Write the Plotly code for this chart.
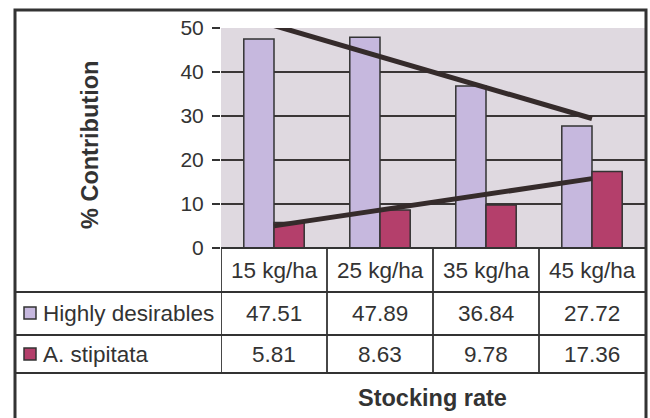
import numpy as np
import plotly.graph_objects as go

# Stocking-rate treatments and percentage contribution of each group
categories = ["15 kg/ha", "25 kg/ha", "35 kg/ha", "45 kg/ha"]
highly_desirables = [47.51, 47.89, 36.84, 27.72]
a_stipitata = [5.81, 8.63, 9.78, 17.36]
series_names = ["Highly desirables", "A. stipitata"]
y_ticks = [0, 10, 20, 30, 40, 50]

LAV = "#c6b8de"
RED = "#b43f6b"
INK = "#333333"
FONT = "Liberation Sans, Arial, sans-serif"

# Plot-area geometry (pixels) used to place table furniture in paper units
L, R, T, B = 221, 645, 28, 248
W, H = 650, 418


def px_x(p):
    return (p - L) / (R - L)


def px_y(p):
    return (B - p) / (B - T)


def trend(values):
    xs = np.arange(1, len(values) + 1)
    slope, icpt = np.polyfit(xs, values, 1)
    return [icpt + slope * xs[0], icpt + slope * xs[-1]]


fig = go.Figure()
fig.add_trace(go.Bar(x=categories, y=highly_desirables, name=series_names[0],
                     marker=dict(color=LAV, line=dict(color=INK, width=1.5))))
fig.add_trace(go.Bar(x=categories, y=a_stipitata, name=series_names[1],
                     marker=dict(color=RED, line=dict(color=INK, width=1.5))))

# Linear trend lines for both series
for vals in (highly_desirables, a_stipitata):
    fig.add_trace(go.Scatter(x=[categories[0], categories[-1]], y=trend(vals),
                             mode="lines", line=dict(color="#352b2b", width=5),
                             showlegend=False, hoverinfo="skip"))

shapes = []
line_style = dict(color=INK, width=1.8)
# outer frame
shapes.append(dict(type="rect", xref="paper", yref="paper",
                   x0=px_x(15), x1=px_x(646), y0=px_y(430), y1=px_y(10),
                   line=dict(color=INK, width=3), layer="above"))
# x axis line
shapes.append(dict(type="line", xref="paper", yref="paper",
                   x0=0, x1=1, y0=0, y1=0, line=line_style))
# data-table horizontal rules
for yp in (292, 335, 373):
    shapes.append(dict(type="line", xref="paper", yref="paper",
                       x0=px_x(15), x1=1, y0=px_y(yp), y1=px_y(yp), line=line_style))
# data-table vertical rules at category boundaries
for xb in [-0.5, 0.5, 1.5, 2.5]:
    shapes.append(dict(type="line", xref="x", yref="paper",
                       x0=xb, x1=xb, y0=0, y1=px_y(373), line=line_style))
# legend keys
for yc, col in ((313, LAV), (354, RED)):
    shapes.append(dict(type="rect", xref="paper", yref="paper",
                       x0=px_x(24), x1=px_x(36), y0=px_y(yc + 6), y1=px_y(yc - 6),
                       fillcolor=col, line=dict(color=INK, width=1.5)))

annotations = []
txt = dict(family=FONT, size=22.5, color=INK)
cell = dict(showarrow=False, font=txt, xanchor="center", yanchor="middle")
for i, c in enumerate(categories):
    annotations.append(dict(x=c, y=px_y(270), xref="x", yref="paper", text=c, **cell))
    annotations.append(dict(x=c, y=px_y(313), xref="x", yref="paper",
                            text=f"{highly_desirables[i]:.2f}", **cell))
    annotations.append(dict(x=c, y=px_y(354), xref="x", yref="paper",
                            text=f"{a_stipitata[i]:.2f}", **cell))
for name, yc in zip(series_names, (313, 354)):
    annotations.append(dict(x=px_x(41), y=px_y(yc), xref="paper", yref="paper",
                            text=name, showarrow=False, font=txt,
                            xanchor="left", yanchor="middle"))
annotations.append(dict(x=px_x(90), y=px_y(145), xref="paper", yref="paper",
                        text="<b>% Contribution</b>", textangle=-90, showarrow=False,
                        xanchor="center", yanchor="middle",
                        font=dict(family=FONT, size=23.5, color=INK)))
annotations.append(dict(x=px_x(432), y=px_y(398), xref="paper", yref="paper",
                        text="<b>Stocking rate</b>", showarrow=False,
                        xanchor="center", yanchor="middle",
                        font=dict(family=FONT, size=23.5, color=INK)))

fig.update_layout(
    width=W, height=H,
    margin=dict(l=L, r=W - R, t=T, b=H - B),
    paper_bgcolor="white",
    plot_bgcolor="#dfd9e0",
    barmode="group", bargap=0.43, bargroupgap=0,
    showlegend=False,
    font=dict(family=FONT, color=INK),
    shapes=shapes,
    annotations=annotations,
    xaxis=dict(type="category", range=[-0.5, 3.5], showticklabels=False,
               showgrid=False, zeroline=False, showline=False, ticks=""),
    yaxis=dict(range=[0, 50], tickvals=y_ticks, ticks="outside", ticklen=8,
               tickwidth=1.5, tickcolor=INK, showgrid=True, gridcolor="#3a3636",
               gridwidth=1.5, zeroline=False, showline=False,
               tickfont=dict(family=FONT, size=21, color=INK),
               ticklabelstandoff=4),
)

fig.write_html("out.html")
